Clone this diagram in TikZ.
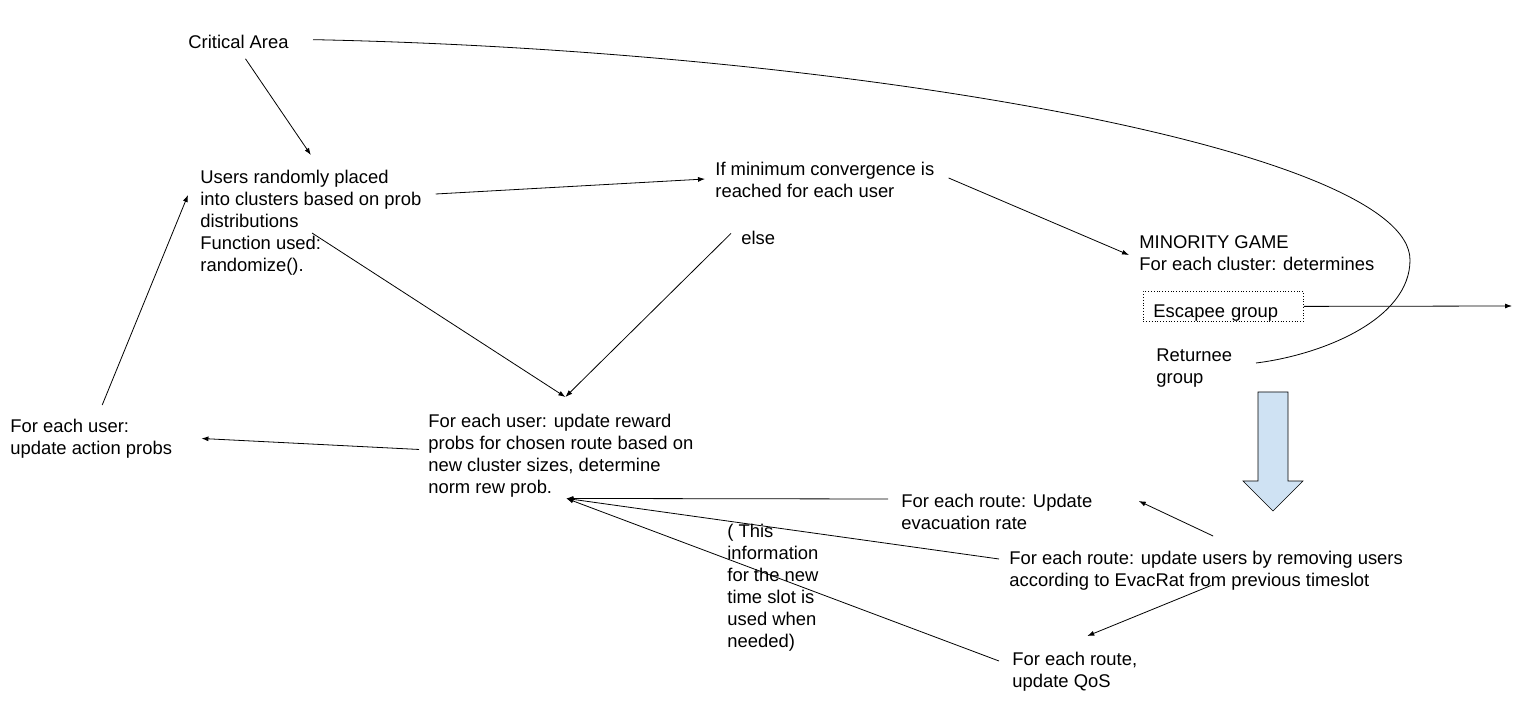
\documentclass[tikz,border=0pt]{standalone}
\usepackage{fontspec}
\setmainfont{Liberation Sans}
\usepackage{xcolor}
\usepackage{tikz}
\usetikzlibrary{arrows.meta,positioning}
\definecolor{blockblue}{RGB}{207,226,243}
\tikzset{
  txt/.style={
      inner sep=0pt,
      anchor=north west,
      align=left,
      font=\fontsize{18.4}{22}\selectfont
    },
  grpbox/.style={
      txt,
      draw,
      dotted,
      text width=140pt,
      inner xsep=10pt,
      text height=26pt,
      text depth=4pt
    }
}

\begin{document}
\begin{tikzpicture}[x=1pt,y=-1pt,line width=0.8pt,>={Latex[length=7pt,width=5pt]}]
\useasboundingbox (0,0) rectangle (1532,708);
% the shapes
\node[txt] at (188,34.5) (crit) {Critical Area};
\node[txt] at (200,169.5) (users)
  {Users randomly placed\\into clusters based on prob\\distributions\\Function used:\\randomize().};
\node[txt] at (715,161.5) (conv)
  {If minimum convergence is\\reached for each user};
\node[txt,anchor=base west] at (741,245) (else) {else};
\node[txt] at (1139,235.5) (mg)
  {MINORITY GAME\\For each cluster: determines};
\node[grpbox] at (1143,291) (esc) {Escapee group};
\node[txt] at (1156,348.5) (ret) {Returnee\\group};
\node[txt] at (10,418.5) (act) {For each user:\\update action probs};
\node[txt] at (428,413.5) (rew)
  {For each user: update reward\\probs for chosen route based on\\new cluster sizes, determine\\norm rew prob.};
\node[txt] at (901,493.5) (evac) {For each route: Update\\evacuation rate};
\node[txt] at (727,523.5) (info)
  {( This\\information\\for the new\\time slot is\\used when\\needed)};
\node[txt] at (1009,550.5) (upd)
  {For each route: update users by removing users\\according to EvacRat from previous timeslot};
\node[txt] at (1012,651.5) (qos) {For each route,\\update QoS};
\coordinate (exit) at (1512,306);
\coordinate (bend) at (1410,260);
\draw[fill=blockblue,line width=0.6pt]
  (1258,392) -- (1288,392) -- (1288,481) -- (1303,481)
  -- (1273,511) -- (1243,481) -- (1258,481) -- cycle;

%the arrows
\draw[->] ([xshift=7pt,yshift=-10pt]crit.south) -- ([yshift=14.5pt]users.north);
\draw[->] ([xshift=11pt,yshift=13.5pt]act.north) -- ([xshift=-12pt,yshift=-25.5pt]users.north west);
\draw[->] ([xshift=14pt,yshift=-24.5pt]users.north east) -- ([xshift=-10pt,yshift=-17.5pt]conv.north west);
\draw[->] ([xshift=14pt,yshift=-16.5pt]conv.north east) -- ([xshift=-10pt,yshift=-19.5pt]mg.north west);
\draw[->] ([xshift=112pt,yshift=-63.5pt]users.north west) -- ([xshift=4.5pt,yshift=16.5pt]rew.north);
\draw[->] ([xshift=-10pt,yshift=5pt]else.west) -- ([xshift=4.5pt,yshift=16.5pt]rew.north);
\draw[->] ([xshift=-9pt,yshift=6pt]rew.west) -- ([xshift=29pt]act.east);
\draw[->] ([xshift=-13pt,yshift=-5.5pt]evac.north west) -- ([xshift=5.5pt,yshift=-1pt]rew.south);
\draw[->] ([xshift=-10pt,yshift=-8.5pt]upd.north west) -- ([xshift=5.5pt,yshift=-1pt]rew.south);
\draw[->] ([xshift=-13pt,yshift=-9.5pt]qos.north west) -- ([xshift=5.5pt,yshift=-1pt]rew.south);
\draw[->] ([xshift=7pt,yshift=14.5pt]upd.north) -- ([xshift=46pt,yshift=-7.5pt]evac.north east);
\draw[->] ([xshift=5pt,yshift=5pt]upd.south) -- ([xshift=12.5pt,yshift=15.5pt]qos.north);
\draw[->] (esc.east) -- (exit);
\draw ([xshift=24pt,yshift=2pt]crit.east)
  .. controls +(538,11) and +(0,-110) .. (bend)
  .. controls +(0,60) and +(65,-8) .. ([xshift=23.5pt,yshift=-14.5pt]ret.north east);
\end{tikzpicture}
\end{document}
